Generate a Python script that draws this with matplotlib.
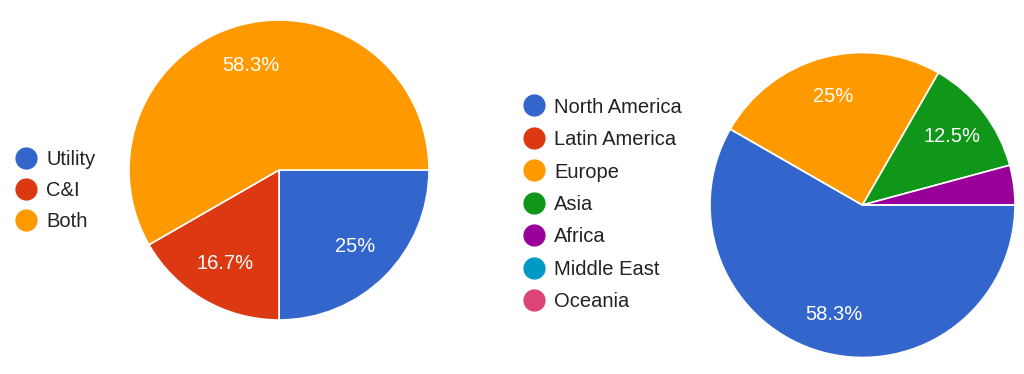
import matplotlib
matplotlib.use("Agg")
import matplotlib.pyplot as plt
from matplotlib.lines import Line2D

plt.rcParams['font.family'] = ['Liberation Sans', 'DejaVu Sans']

# Data
left_labels = ["Utility", "C&I", "Both"]
left_values = [25.0, 16.7, 58.3]
left_colors = ["#3366cc", "#dc3912", "#ff9900"]

right_labels = ["North America", "Latin America", "Europe", "Asia", "Africa", "Middle East", "Oceania"]
right_values = [58.3, 0.0, 25.0, 12.5, 4.2, 0.0, 0.0]
right_colors = ["#3366cc", "#dc3912", "#ff9900", "#109618", "#990099", "#0099c6", "#dd4477"]

W, H = 1024, 374
FS = 14.5
fig = plt.figure(figsize=(W / 100, H / 100), dpi=100)


def fmt(p):
    if p < 5:
        return ""
    s = f"{p:.1f}"
    if s.endswith(".0"):
        s = s[:-2]
    return s + "%"


def add_pie(cx, cy, r, values, colors, pctdist):
    pad = 1.1
    side = 2 * r * pad
    ax = fig.add_axes([(cx - side / 2) / W, (H - cy - side / 2) / H, side / W, side / H])
    ax.pie(values, colors=colors, startangle=0, counterclock=False,
           autopct=fmt, pctdistance=pctdist,
           wedgeprops=dict(edgecolor="white", linewidth=1.2),
           textprops=dict(color="white", fontsize=FS))
    ax.set_xlim(-pad, pad)
    ax.set_ylim(-pad, pad)
    ax.set_aspect("equal")
    ax.axis("off")
    return ax


def add_legend(labels, colors, x_left, y_center, spacing):
    handles = [Line2D([], [], marker="o", linestyle="", markersize=15,
                      markerfacecolor=c, markeredgecolor=c) for c in colors]
    fig.legend(handles, labels, loc="center left",
               bbox_to_anchor=(x_left / W, 1 - y_center / H),
               frameon=False, fontsize=FS, borderpad=0, borderaxespad=0,
               handlelength=1.2, handletextpad=0.4, labelspacing=spacing,
               labelcolor="#222222")


add_pie(279, 170, 150, left_values, left_colors, 0.72)
add_pie(862.5, 205, 152.5, right_values, right_colors, 0.74)
add_legend(left_labels, left_colors, 14, 190.5, 0.6)
add_legend(right_labels, right_colors, 522, 204.5, 0.67)

fig.savefig("out.png", dpi=100, facecolor="white")
